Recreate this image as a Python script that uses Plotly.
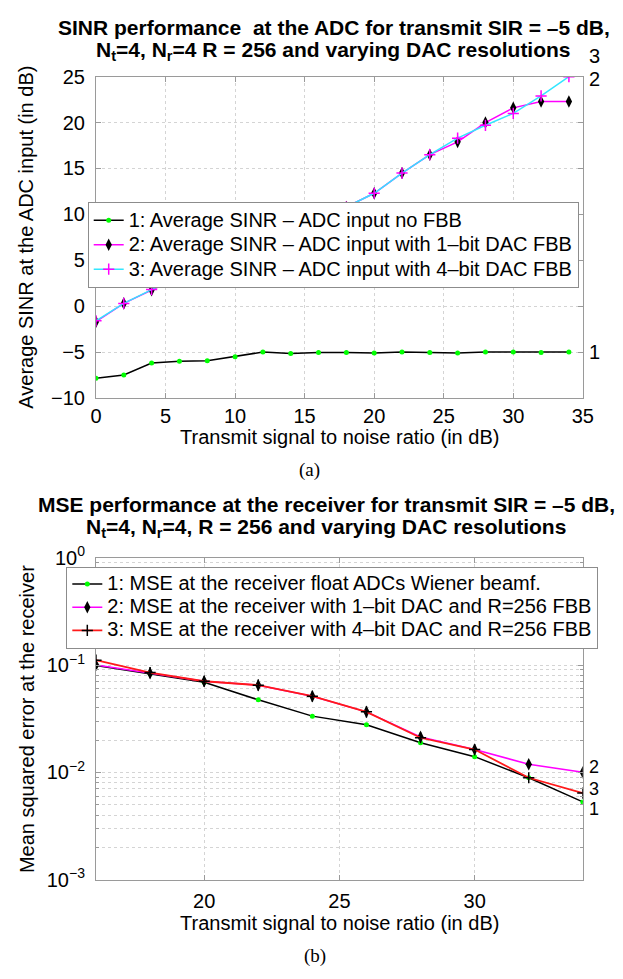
import math
import plotly.graph_objects as go

W, H = 623, 979
FONT = "Liberation Sans, Arial, Helvetica, sans-serif"

# ---------------- data: top chart (a) ----------------
snr_top = [0, 2, 4, 6, 8, 10, 12, 14, 16, 18, 20, 22, 24, 26, 28, 30, 32, 34]
sinr_no_fbb = [-7.85, -7.5, -6.2, -6.0, -5.95, -5.5, -5.0, -5.15, -5.05, -5.05,
               -5.1, -5.0, -5.05, -5.1, -5.0, -5.0, -5.05, -5.0]
sinr_1bit = [-1.7, 0.3, 1.75, 3.1, 4.5, 5.9, 7.2, 8.6, 9.8, 10.8,
             12.3, 14.5, 16.5, 17.9, 20.0, 21.6, 22.3, 22.3]
sinr_4bit = [-1.6, 0.3, 1.8, 3.2, 4.6, 5.9, 7.3, 8.6, 9.8, 10.8,
             12.3, 14.5, 16.5, 18.3, 19.7, 21.0, 22.9, 25.0]
top_names = ["1: Average SINR \u2013 ADC input no FBB",
             "2: Average SINR \u2013 ADC input with 1\u2013bit DAC FBB",
             "3: Average SINR \u2013 ADC input with 4\u2013bit DAC FBB"]
top_xticks = [0, 5, 10, 15, 20, 25, 30, 35]
top_yticks = [-10, -5, 0, 5, 10, 15, 20, 25]
top_xrange = [0, 35]
top_yrange = [-10, 25]

# ---------------- data: bottom chart (b) ----------------
snr_bot = [16, 18, 20, 22, 24, 26, 28, 30, 32, 34]
mse_float = [0.099, 0.083, 0.069, 0.0474, 0.0334, 0.0277, 0.0189, 0.0140, 0.0089, 0.0053]
mse_1bit = [0.100, 0.084, 0.0706, 0.0649, 0.0512, 0.0366, 0.0214, 0.0163, 0.0119, 0.0100]
mse_4bit = [0.111, 0.085, 0.0706, 0.0649, 0.0512, 0.0366, 0.0210, 0.0163, 0.0089, 0.0064]
bot_names = ["1: MSE at the receiver float ADCs Wiener beamf.",
             "2: MSE at the receiver with 1\u2013bit DAC and R=256 FBB",
             "3: MSE at the receiver with 4\u2013bit DAC and R=256 FBB"]
bot_xticks = [20, 25, 30]
bot_yticks = [1e-3, 1e-2, 1e-1, 1]
bot_yticktext = ["10<sup>\u22123</sup>", "10<sup>\u22122</sup>", "10<sup>\u22121</sup>", "10<sup>0</sup>"]
bot_minor = [m * 10.0 ** e for e in (-3, -2, -1) for m in range(2, 10)]
bot_xrange = [16, 34]
bot_yrange_log = [-3, 0]


def X(px):
    return px / W


def Y(py):
    return 1 - py / H


AX_L, AX_R = 92.5, 593
TOP_T, TOP_B = 64.3, 394
BOT_T, BOT_B = 558, 888.3

top_dom = [Y(TOP_B), Y(TOP_T)]
bot_dom = [Y(BOT_B), Y(BOT_T)]


def top_paper(v):
    return top_dom[0] + (v - top_yrange[0]) / (top_yrange[1] - top_yrange[0]) * (top_dom[1] - top_dom[0])


def bot_paper(v):
    lv = math.log10(v)
    return bot_dom[0] + (lv - bot_yrange_log[0]) / (bot_yrange_log[1] - bot_yrange_log[0]) * (bot_dom[1] - bot_dom[0])


def leg(name, px=20):
    # larger visible text than the legend's nominal font => tighter MATLAB-like rows
    return "<span style='font-size:%dpx'>%s</span>" % (px, name)


fig = go.Figure()

green_dot = dict(symbol="circle", size=5, color="#00ff00", line=dict(width=0))
black_diamond = dict(symbol="diamond-tall", size=9, color="black", line=dict(width=0))
magenta_plus = dict(symbol="cross-thin", size=8, color="magenta", line=dict(color="magenta", width=1.5))
black_plus = dict(symbol="cross-thin", size=8, color="black", line=dict(color="black", width=1.5))

# top traces
fig.add_trace(go.Scatter(x=snr_top, y=sinr_no_fbb, mode="lines+markers", name=leg(top_names[0]),
                         line=dict(color="black", width=1.5), marker=green_dot,
                         xaxis="x", yaxis="y", legend="legend"))
fig.add_trace(go.Scatter(x=snr_top, y=sinr_1bit, mode="lines+markers", name=leg(top_names[1]),
                         line=dict(color="magenta", width=1.5), marker=black_diamond,
                         xaxis="x", yaxis="y", legend="legend"))
fig.add_trace(go.Scatter(x=snr_top, y=sinr_4bit, mode="lines+markers", name=leg(top_names[2]),
                         line=dict(color="#33e6ff", width=1.5), marker=magenta_plus,
                         xaxis="x", yaxis="y", legend="legend"))

# bottom traces
fig.add_trace(go.Scatter(x=snr_bot, y=mse_float, mode="lines+markers", name=leg(bot_names[0]),
                         line=dict(color="black", width=1.5), marker=green_dot,
                         xaxis="x2", yaxis="y2", legend="legend2"))
fig.add_trace(go.Scatter(x=snr_bot, y=mse_1bit, mode="lines+markers", name=leg(bot_names[1]),
                         line=dict(color="magenta", width=1.5), marker=black_diamond,
                         xaxis="x2", yaxis="y2", legend="legend2"))
fig.add_trace(go.Scatter(x=snr_bot, y=mse_4bit, mode="lines+markers", name=leg(bot_names[2]),
                         line=dict(color="#ff1a1a", width=1.8), marker=black_plus,
                         xaxis="x2", yaxis="y2", legend="legend2"))

AXCOL = "#9a9a9a"
GRIDCOL = "#d4d4d4"
TICKFONT = dict(family=FONT, size=20, color="black")

common = dict(showline=True, linecolor=AXCOL, linewidth=1, mirror="ticks",
              ticks="inside", ticklen=5, tickcolor=AXCOL, tickwidth=1,
              showgrid=True, gridcolor=GRIDCOL, griddash="dot", gridwidth=1,
              zeroline=False, tickfont=TICKFONT)

legend_common = dict(xanchor="left", yanchor="top", bgcolor="white",
                     bordercolor="#8c8c8c", borderwidth=1,
                     itemwidth=30, tracegroupgap=0)

fig.update_layout(
    width=W, height=H,
    margin=dict(l=0, r=0, t=0, b=0),
    paper_bgcolor="white", plot_bgcolor="white",
    font=dict(family=FONT, color="black"),
    xaxis=dict(domain=[X(AX_L), X(AX_R)], anchor="y", range=top_xrange, tickvals=top_xticks,
               ticklabelstandoff=0, **common),
    yaxis=dict(domain=top_dom, anchor="x", range=top_yrange, tickvals=top_yticks,
               ticklabelstandoff=6, **common),
    xaxis2=dict(domain=[X(AX_L), X(AX_R)], anchor="y2", range=bot_xrange, tickvals=bot_xticks,
                ticklabelstandoff=3, **common),
    yaxis2=dict(domain=bot_dom, anchor="x2", type="log", range=bot_yrange_log,
                tickvals=bot_yticks, ticktext=bot_yticktext, ticklabelstandoff=6,
                minor=dict(tickvals=bot_minor, showgrid=True, gridcolor=GRIDCOL, griddash="dot",
                           ticks="inside", ticklen=3, tickcolor=AXCOL),
                **common),
    legend=dict(x=X(84), y=Y(193), font=dict(family=FONT, size=16.5, color="black"), **legend_common),
    legend2=dict(x=X(62), y=Y(567), font=dict(family=FONT, size=15.5, color="black"), **legend_common),
    showlegend=True,
)

ann = []
# titles
ann.append(dict(text="<b>SINR performance  at the ADC for transmit SIR = \u20135 dB,</b>",
                x=X(337), y=Y(14), font=dict(size=21)))
ann.append(dict(text="<b>N<sub>t</sub>=4, N<sub>r</sub>=4 R = 256 and varying DAC resolutions</b>",
                x=X(337), y=Y(38), font=dict(size=21)))
ann.append(dict(text="<b>MSE performance at the receiver for transmit SIR = \u20135 dB,</b>",
                x=X(329), y=Y(503), font=dict(size=21)))
ann.append(dict(text="<b>N<sub>t</sub>=4, N<sub>r</sub>=4, R = 256 and varying DAC resolutions</b>",
                x=X(329), y=Y(527), font=dict(size=21)))
# axis titles
cx = (AX_L + AX_R) / 2
ann.append(dict(text="Transmit signal to noise ratio (in dB)", x=X(cx), y=Y(434), font=dict(size=20)))
ann.append(dict(text="Transmit signal to noise ratio (in dB)", x=X(cx), y=Y(933), font=dict(size=20)))
ann.append(dict(text="Average SINR at the ADC input (in dB)", x=X(21), y=Y((TOP_T + TOP_B) / 2),
                textangle=-90, font=dict(size=20)))
ann.append(dict(text="Mean squared error at the receiver", x=X(21), y=Y((BOT_T + BOT_B) / 2),
                textangle=-90, font=dict(size=20)))
# captions
ann.append(dict(text="(a)", x=X(312), y=Y(468),
                font=dict(size=19, family="Liberation Serif, Times New Roman, serif")))
ann.append(dict(text="(b)", x=X(318), y=Y(967),
                font=dict(size=19, family="Liberation Serif, Times New Roman, serif")))

for a in ann:
    a.update(xref="paper", yref="paper", showarrow=False, xanchor="center", yanchor="middle")
    fig.add_annotation(**a)

# line-end labels (placed next to the series ends, MATLAB-style)
end_labels = [
    ("1", top_paper(sinr_no_fbb[-1]), 20),
    ("2", top_paper(sinr_4bit[-1]) - 0.0025, 20),
    ("3", top_paper(sinr_4bit[-1]) + 0.022, 20),
    ("2", bot_paper(mse_1bit[-1]) + 0.0051, 18),
    ("3", bot_paper(mse_4bit[-1]) + 0.0044, 18),
    ("1", bot_paper(mse_float[-1]) - 0.0079, 18),
]
for txt, yp, fs in end_labels:
    fig.add_annotation(text=txt, xref="paper", yref="paper", x=X(598), y=yp,
                       xanchor="left", yanchor="middle", showarrow=False, borderpad=0,
                       font=dict(family=FONT, size=fs, color="black"))

fig.write_html("out.html")
